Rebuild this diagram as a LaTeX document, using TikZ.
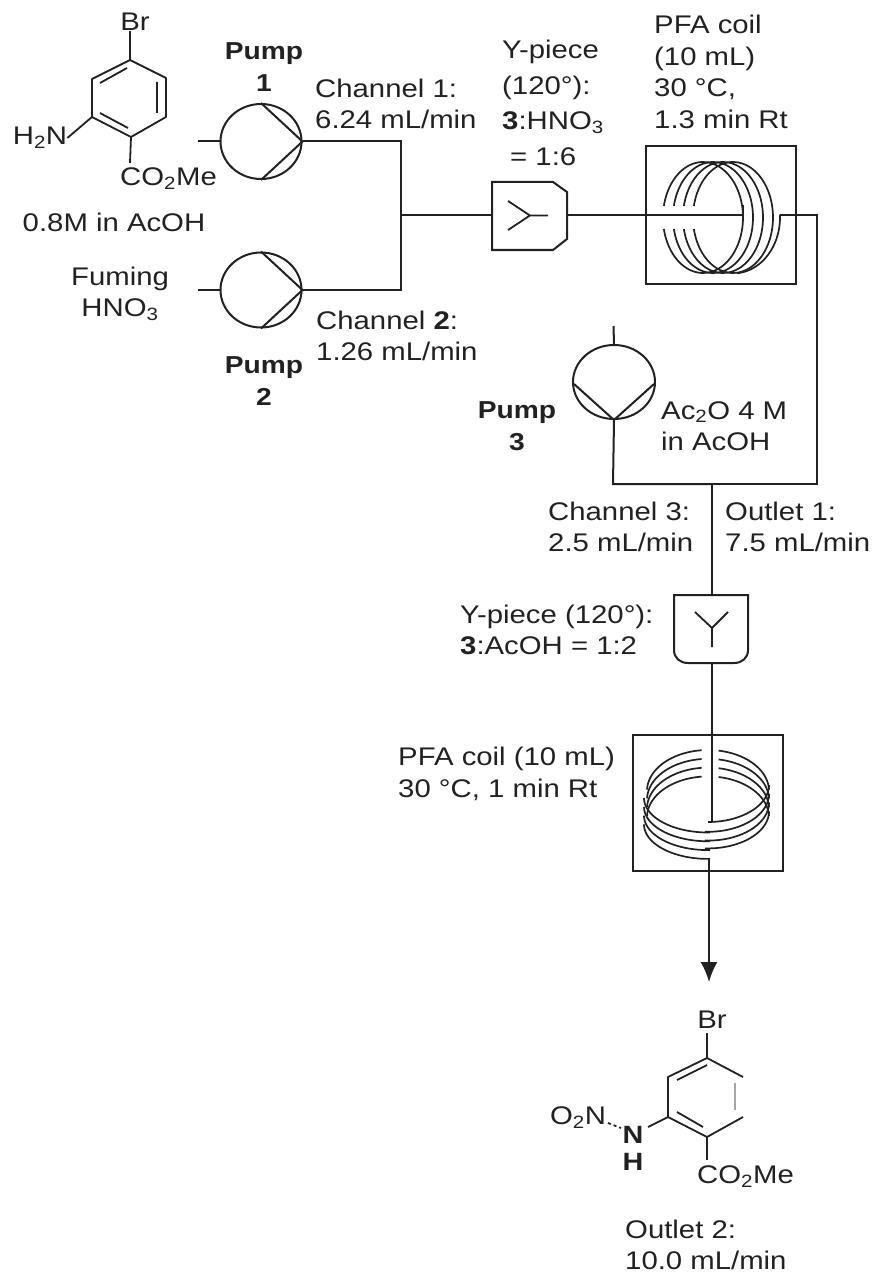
\documentclass[tikz,border=0pt]{standalone}
\usepackage{fontspec}
\usetikzlibrary{shapes.geometric,arrows.meta}
\setmainfont[FakeStretch=1.15]{Liberation Sans}
\definecolor{ink}{gray}{0.13}
\newcommand{\ecarc}[6]{\draw[tube] plot[domain=#5:#6,samples=28,smooth] ({#1+#3*cos(\x)},{#2-#4*sin(\x)});}
\newcommand{\sub}[1]{\textsubscript{#1}}
\tikzset{
  wire/.style={draw=ink,line width=2pt,line join=miter},
  thin wire/.style={draw=ink,line width=1.8pt},
  tube/.style={draw=ink,line width=1.7pt},
  pumpbody/.style={draw=ink,line width=2pt,ellipse,inner sep=0pt,minimum width=81pt,minimum height=75pt},
  lab/.style={inner sep=0pt,text=ink,font=\fontsize{25.5}{31.5}\selectfont,align=left,anchor=west},
  clab/.style={inner sep=0pt,text=ink,font=\fontsize{25.5}{31.5}\selectfont,align=center},
  blab/.style={inner sep=0pt,text=ink,font=\fontsize{24.5}{32}\selectfont\bfseries,align=center},
  bond/.style={draw=ink,line width=1.8pt},
  framebox/.style={draw=ink,line width=2pt,rectangle,inner sep=0pt}
}
\begin{document}
\begin{tikzpicture}[x=1pt,y=-1pt]
\useasboundingbox (0,0) rectangle (871,1273);
% --- starting material
\node[clab] (br1) at (135,22) {Br};
\node[clab] (h2n) at (40,138) {H\sub{2}N};
\node[lab] (co1) at (120,179) {CO\sub{2}Me};
\node[clab] (conc) at (114,222) {0.8M in AcOH};
\coordinate (a1) at (130,60); \coordinate (a2) at (92,79); \coordinate (a3) at (92,117);
\coordinate (a4) at (131,137); \coordinate (a5) at (166,117); \coordinate (a6) at (166,78);
\draw[bond,line join=round] (a1)--(a2)--(a3)--(a4)--(a5)--(a6)--cycle;
\draw[bond] (100,83)--(127,68) (100,113)--(128,128) (157,82)--(157,113);
\draw[bond] (br1.south -| a1) -- (a1);
\draw[bond] (a3) -- (h2n.east);
\draw[bond] (a4) -- (130,163);
% --- pumps 1, 2
\node[pumpbody] (p1) at (261,141.5) {};
\node[pumpbody] (p2) at (261,290) {};
\coordinate (in1) at (198,141.5); \coordinate (in2) at (198,290);
\coordinate (j1) at (401,141.5); \coordinate (j2) at (401,290); \coordinate (j0) at (401,215.5);
\draw[wire] (in1) -- (p1.west);
\draw[wire] (in2) -- (p2.west);
\draw[wire] (p1.north) -- (p1.east) -- (p1.south);
\draw[wire] (p2.north) -- (p2.east) -- (p2.south);
\draw[wire] (p1.east) -- (j1) -- (j2) -- (p2.east);
\node[blab] (lp1) at (264,67) {Pump\\1};
\node[blab] (lp2) at (264,381) {Pump\\2};
\node[lab] (ch1) at (315,104) {Channel 1:\\6.24 mL/min};
\node[lab] (ch2) at (316,336) {Channel \textbf{2}:\\1.26 mL/min};
\node[clab] (fum) at (120,294) {Fuming\\HNO\sub{3}};
% --- Y-piece 1
\coordinate (y1in) at (492,215.5); \coordinate (y1out) at (567,215.5);
\draw[wire] (492,182) -- (553,182) -- (567,192) -- (567,239) -- (553,250) -- (492,250) -- cycle;
\draw[thin wire] (508,201) -- (530,215.5) -- (508,230) (530,215.5) -- (548,215.5);
\draw[wire] (j0) -- (y1in);
\node[lab] (yl1) at (502,103) {Y-piece\\[4pt](120°):\\[4pt]\textbf{3}:HNO\sub{3}\\[4pt]\hspace*{8pt}= 1:6};
% --- coil 1
\node[framebox,minimum width=150pt,minimum height=138pt] (c1) at (721,215) {};
\foreach \i in {0,1,2,3}{
  \pgfmathsetmacro{\cx}{703+10*\i}
  \ecarc{\cx}{217.5}{40}{55.5}{90}{168}
  \ecarc{\cx}{217.5}{40}{55.5}{192}{270}
  \ecarc{\cx}{217.5}{40}{55.5}{-90}{90}
}
\ecarc{733}{217.5}{47}{56}{-85}{3}
\coordinate (c1in) at (743,215.5); \coordinate (c1out) at (780,215.5);
\coordinate (c1k) at (743,205);
\draw[wire] (y1out) -- (c1in) -- (c1k);
\coordinate (k1) at (817,215.5); \coordinate (k2) at (817,484); \coordinate (k3) at (712,484); \coordinate (k4) at (613,484);
\draw[wire] (c1out) -- (k1) -- (k2) -- (k3);
\node[lab] (cl1) at (654,72) {PFA coil\\(10 mL)\\30 °C,\\1.3 min Rt};
% --- pump 3
\node[pumpbody,minimum width=82pt,minimum height=74pt] (p3) at (614,382) {};
\coordinate (in3) at (613.5,326);
\coordinate (p3l) at (574,384); \coordinate (p3r) at (654,384);
\draw[wire] (in3) -- (p3.north);
\draw[wire] (p3l) -- (p3.south) -- (p3r);
\draw[wire] (p3.south) -- (k4) -- (k3);
\node[blab] (lp3) at (517,426) {Pump\\3};
\node[lab] (ac) at (661,426) {Ac\sub{2}O 4 M\\in AcOH};
\node[lab] (ch3) at (548,527) {Channel 3:\\2.5 mL/min};
\node[lab] (ou1) at (725,527) {Outlet 1:\\7.5 mL/min};
% --- Y-piece 2
\coordinate (y2in) at (712,595); \coordinate (y2out) at (712,663);
\draw[wire] (674,595) -- (748,595) -- (748,650) .. controls (748,658) and (742,663) .. (734,663) -- (688,663) .. controls (680,663) and (674,658) .. (674,650) -- cycle;
\draw[thin wire] (695,612) -- (712,628) -- (728,612) (712,628) -- (712,647);
\draw[wire] (k3) -- (y2in);
\node[lab] (yl2) at (460,630) {Y-piece (120°):\\\textbf{3}:AcOH = 1:2};
% --- coil 2
\node[framebox,minimum width=150pt,minimum height=136pt] (c2) at (708,803) {};
\foreach \i in {0,1,2,3}{
  \pgfmathsetmacro{\cy}{791+8.8*\i}
  \ecarc{708}{\cy}{61}{41}{96}{178}
  \ecarc{708}{\cy}{61}{41}{2}{80}
  \ecarc{708}{\cy+7}{64}{34.5}{180}{272}
}
\ecarc{708}{785}{61}{37}{-90}{0}
\ecarc{708}{793.8}{61}{38}{-93}{0}
\ecarc{708}{802.6}{61}{38}{-93}{0}
\ecarc{708}{811.4}{61}{37}{-93}{0}
\coordinate (c2in) at (712,822);
\draw[wire] (y2out) -- (c2in);
\coordinate (c2out) at (709,859); \coordinate (tip) at (709,982);
\draw[wire,-{Latex[length=20pt,width=17pt]}] (c2out) -- (tip);
\node[lab] (cl2) at (398,774) {PFA coil (10 mL)\\30 °C, 1 min Rt};
% --- product
\node[clab] (br2) at (712,1020) {Br};
\node[clab] (o2n) at (578,1118) {O\sub{2}N};
\node[clab,font=\fontsize{25}{27}\selectfont\bfseries] (nh) at (633,1148) {N\\H};
\node[lab] (co2) at (697,1177) {CO\sub{2}Me};
\node[lab] (ou2) at (625,1245) {Outlet 2:\\10.0 mL/min};
\coordinate (b1) at (707,1058); \coordinate (b2) at (668,1077); \coordinate (b3) at (668,1117);
\coordinate (b4) at (707,1137); \coordinate (b5) at (743,1117); \coordinate (b6) at (743,1077);
\draw[bond,line join=round] (b6)--(b1)--(b2)--(b3)--(b4)--(b5);
\draw[bond] (677,1080)--(707,1065) (677,1112)--(703,1127);
\draw[draw=gray!70,line width=1.8pt] (735,1083)--(735,1110);
\draw[bond] (707,1033) -- (b1);
\draw[bond] (b4) -- (707,1160);
\draw[bond] (b3) -- (648,1127);
\draw[bond,dash pattern=on 3pt off 3pt] (608,1123) -- (621,1128);
\end{tikzpicture}
\end{document}
